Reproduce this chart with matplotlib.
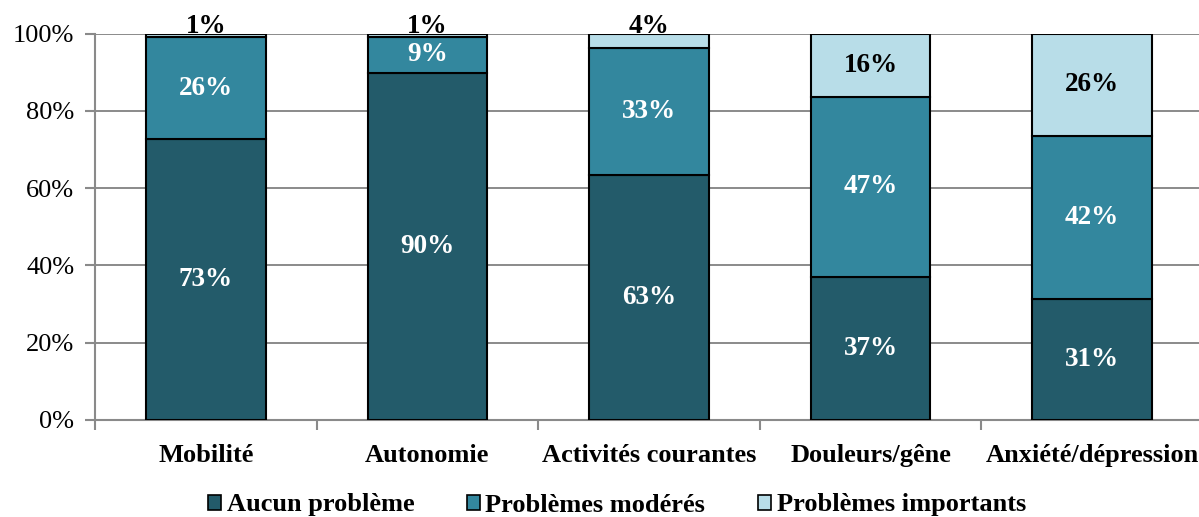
import numpy as np
import matplotlib.pyplot as plt
from matplotlib.patches import Patch
from matplotlib.ticker import FixedLocator

plt.rcParams['font.family'] = ['Liberation Serif', 'DejaVu Serif']

categories = ['Mobilité', 'Autonomie', 'Activités courantes', 'Douleurs/gêne', 'Anxiété/dépression']
aucun = [72.6, 89.9, 63.4, 37.0, 31.3]
moderes = [26.4, 9.1, 32.8, 46.6, 42.2]
importants = [1.0, 1.0, 3.8, 16.4, 26.5]
series_names = ['Aucun problème', 'Problèmes modérés', 'Problèmes importants']

colors = ['#235B6A', '#33879E', '#B8DDE8']
text_colors = ['white', 'white', 'black']

fig = plt.figure(figsize=(11.99, 5.17), dpi=100)
ax = fig.add_axes([95 / 1199, 97 / 517, 1108 / 1199, 386.5 / 517])

x = np.arange(len(categories))
series = [aucun, moderes, importants]
bottom = np.zeros(len(categories))
for k, vals in enumerate(series):
    vals = np.array(vals)
    ax.bar(x, vals, 0.54, bottom=bottom, color=colors[k], edgecolor='black',
           linewidth=1.5, zorder=3)
    for i in range(len(categories)):
        label = f'{round(vals[i]):.0f}%'
        if vals[i] < 5:
            # tiny segment: label sits on top of the bar
            ax.annotate(label, (x[i], 100), xytext=(0, -4), textcoords='offset points',
                        ha='center', va='bottom', fontsize=19.5, fontweight='bold',
                        color=text_colors[k], zorder=4, annotation_clip=False)
        else:
            ax.text(x[i], bottom[i] + vals[i] / 2, label, ha='center', va='center',
                    fontsize=19.5, fontweight='bold', color=text_colors[k], zorder=4)
    bottom = bottom + vals

ax.set_xlim(-0.5, len(categories) - 0.5)
ax.set_ylim(0, 100)
ax.set_yticks(np.arange(0, 101, 20))
ax.set_yticklabels([f'{v}%' for v in range(0, 101, 20)], fontsize=19)
ax.yaxis.grid(True, color='#8A8A8A', linewidth=1.4, zorder=0)

ax.set_xticks(x)
ax.set_xticklabels(categories, fontsize=19, fontweight='bold')
ax.xaxis.set_minor_locator(FixedLocator(np.arange(-0.5, len(categories), 1)))
ax.tick_params(axis='x', which='major', length=0, pad=17)
ax.tick_params(axis='x', which='minor', length=7, width=1.5, color='#8A8A8A', direction='out')
ax.tick_params(axis='y', length=7, width=1.5, color='#8A8A8A', direction='out', pad=8)

for side in ['top', 'right']:
    ax.spines[side].set_visible(False)
for side in ['left', 'bottom']:
    ax.spines[side].set_color('#8A8A8A')
    ax.spines[side].set_linewidth(1.5)

handles = [Patch(facecolor=colors[k], edgecolor='black', linewidth=1.2) for k in range(3)]
fig.legend(handles, series_names, loc='center', bbox_to_anchor=(617 / 1199, 1 - 505 / 517),
           ncol=3, frameon=False, prop={'size': 19, 'weight': 'bold'},
           handlelength=0.5, handleheight=0.5, handletextpad=0.2, columnspacing=2.0)

fig.savefig('out.png', dpi=100)
